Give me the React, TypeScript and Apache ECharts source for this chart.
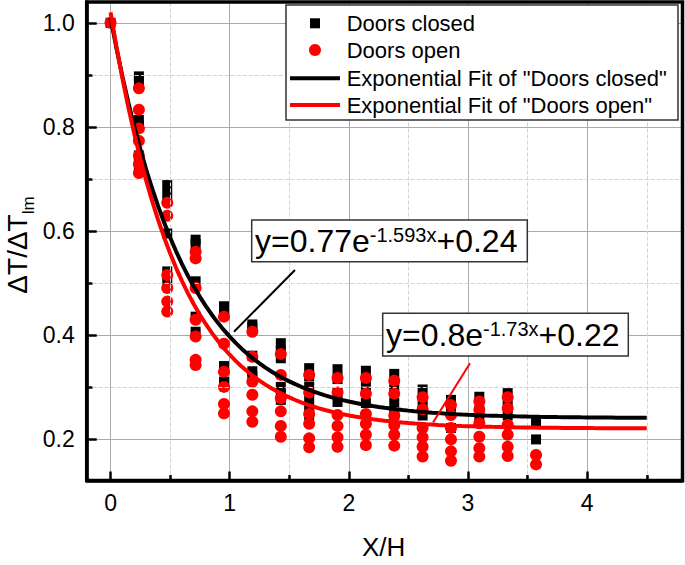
import React, { useEffect, useRef } from "react";
import * as echarts from "echarts";

// ---- data ----
const X_POS = [0, 0.238, 0.476, 0.714, 0.952, 1.19, 1.429, 1.667, 1.905, 2.143, 2.381, 2.619, 2.857, 3.095, 3.333, 3.571];

const CLOSED_COLS: number[][] = [
  [1.0],
  [0.897, 0.887, 0.813, 0.803, 0.745, 0.733, 0.725],
  [0.688, 0.669, 0.595, 0.522, 0.503],
  [0.583, 0.575, 0.503, 0.435, 0.406],
  [0.455, 0.445, 0.34, 0.31],
  [0.42, 0.415, 0.36, 0.33, 0.32],
  [0.384, 0.37, 0.355, 0.3, 0.285, 0.275],
  [0.336, 0.32, 0.3, 0.28, 0.262, 0.246],
  [0.334, 0.315, 0.29, 0.271],
  [0.331, 0.31, 0.29, 0.269],
  [0.325, 0.3, 0.27, 0.246],
  [0.295, 0.27, 0.245],
  [0.275, 0.25, 0.221],
  [0.281, 0.255, 0.233],
  [0.288, 0.265, 0.245],
  [0.233, 0.199],
];

const OPEN_COLS: number[][] = [
  [1.0],
  [0.874, 0.833, 0.797, 0.773, 0.745, 0.728, 0.711],
  [0.654, 0.629, 0.515, 0.49, 0.464, 0.445],
  [0.56, 0.547, 0.49, 0.429, 0.397, 0.352, 0.342],
  [0.435, 0.383, 0.329, 0.3, 0.267, 0.249],
  [0.406, 0.358, 0.31, 0.285, 0.253, 0.233],
  [0.363, 0.323, 0.278, 0.253, 0.225, 0.204],
  [0.323, 0.289, 0.248, 0.229, 0.201, 0.184],
  [0.317, 0.289, 0.246, 0.225, 0.203, 0.185],
  [0.317, 0.287, 0.248, 0.229, 0.208, 0.188],
  [0.312, 0.287, 0.245, 0.226, 0.208, 0.187],
  [0.28, 0.257, 0.221, 0.203, 0.185, 0.166],
  [0.265, 0.246, 0.221, 0.199, 0.176, 0.158],
  [0.272, 0.256, 0.23, 0.204, 0.182, 0.166],
  [0.28, 0.259, 0.227, 0.208, 0.185, 0.167],
  [0.169, 0.151],
];

// fitted equations printed on the chart
const FIT_CLOSED = { a: 0.77, k: 1.593, c: 0.24 };
const FIT_OPEN = { a: 0.8, k: 1.73, c: 0.22 };
const FIT_X_END = 4.5;
const FIT_STEP = 0.05;

const X_MIN = -0.2;
const X_MAX = 4.8;
const Y_MIN = 0.12;
const Y_MAX = 1.04;
const X_MINOR = [0.5, 1.5, 2.5, 3.5, 4.5];
const Y_MINOR = [0.3, 0.5, 0.7, 0.9];

const SERIES_NAMES = [
  "Doors closed",
  "Doors open",
  'Exponential Fit of "Doors closed"',
  'Exponential Fit of "Doors open"',
];
const X_NAME = "X/H";
const Y_NAME_MAIN = "ΔT/ΔT";
const Y_NAME_SUB = "lm";

const FONT = "'Liberation Sans', Arial, Helvetica, sans-serif";

function toPoints(cols: number[][]) {
  const pts: number[][] = [];
  cols.forEach((col, i) => col.forEach((v) => pts.push([X_POS[i], v])));
  return pts;
}

function fitCurve(p: { a: number; k: number; c: number }) {
  const pts: number[][] = [];
  const n = Math.round(FIT_X_END / FIT_STEP);
  for (let i = 0; i <= n; i++) {
    const x = i * FIT_STEP;
    pts.push([x, p.a * Math.exp(-p.k * x) + p.c]);
  }
  return pts;
}

export default function App() {
  const ref = useRef<HTMLDivElement>(null);
  useEffect(() => {
    if (!ref.current) return;
    const chart = echarts.init(ref.current, undefined, { renderer: "svg" });
    const minorTickLen = 0.0105;
    const minorTickLenX = 0.048;
    const GL = 86.7, GT = 2, GW = 595.8, GH = 478.5;
    const eqRich = {
      m: { fontSize: 32, fontFamily: FONT, fill: "#000" },
      s: { fontSize: 20, fontFamily: FONT, fill: "#000", verticalAlign: "top" },
    };
    const option: any = {
      animation: false,
      backgroundColor: "#fff",
      textStyle: { fontFamily: FONT },
      grid: { left: GL, top: GT, width: GW, height: GH, show: false },
      xAxis: {
        type: "value",
        min: X_MIN,
        max: X_MAX,
        splitNumber: 5,
        axisLine: { show: true, onZero: false, lineStyle: { color: "#000", width: 3.5 } },
        axisTick: { show: true, inside: true, length: 9, lineStyle: { color: "#000", width: 2.5 } },
        axisLabel: {
          show: true,
          showMinLabel: false,
          showMaxLabel: false,
          margin: 11,
          color: "#000",
          fontSize: 23,
          fontFamily: FONT,
        },
        splitLine: { show: true, lineStyle: { color: "#a9a9a9", width: 1 } },
      },
      yAxis: {
        type: "value",
        min: Y_MIN,
        max: Y_MAX,
        splitNumber: 5,
        axisLine: { show: true, onZero: false, lineStyle: { color: "#000", width: 3.5 } },
        axisTick: { show: true, inside: true, length: 10, lineStyle: { color: "#000", width: 2.5 } },
        axisLabel: {
          show: true,
          showMinLabel: false,
          showMaxLabel: false,
          margin: 12,
          color: "#000",
          fontSize: 23,
          fontFamily: FONT,
          formatter: (v: number) => v.toFixed(1),
        },
        splitLine: { show: true, lineStyle: { color: "#a9a9a9", width: 1 } },
      },
      series: [
        {
          type: "scatter",
          name: "minor",
          data: [],
          z: 1,
          silent: true,
          markLine: {
            silent: true,
            symbol: ["none", "none"],
            label: { show: false },
            animation: false,
            lineStyle: { color: "#d2d2d2", type: "dashed", width: 1 },
            data: [
              ...X_MINOR.map((x) => ({ xAxis: x })),
              ...Y_MINOR.map((y) => ({ yAxis: y })),
              ...X_MINOR.map((x) => [
                { coord: [x, Y_MIN], lineStyle: { color: "#000", type: "solid", width: 2.5 } },
                { coord: [x, Y_MIN + minorTickLen] },
              ]),
              ...Y_MINOR.map((y) => [
                { coord: [X_MIN, y], lineStyle: { color: "#000", type: "solid", width: 2.5 } },
                { coord: [X_MIN + minorTickLenX, y] },
              ]),
            ],
          },
        },
        {
          type: "scatter",
          name: SERIES_NAMES[0],
          data: toPoints(CLOSED_COLS),
          symbol: "rect",
          symbolSize: 10,
          itemStyle: { color: "#000", opacity: 1 },
          z: 3,
        },
        {
          type: "scatter",
          name: SERIES_NAMES[1],
          data: toPoints(OPEN_COLS),
          symbol: "circle",
          symbolSize: 12,
          itemStyle: { color: "#ff0000", opacity: 1 },
          z: 4,
        },
        {
          type: "line",
          name: SERIES_NAMES[2],
          data: fitCurve(FIT_CLOSED),
          showSymbol: false,
          symbol: "none",
          lineStyle: { color: "#000", width: 4 },
          z: 5,
        },
        {
          type: "line",
          name: SERIES_NAMES[3],
          data: fitCurve(FIT_OPEN),
          showSymbol: false,
          symbol: "none",
          lineStyle: { color: "#ff0000", width: 4 },
          z: 6,
        },
      ],
      graphic: [
        // plot frame
        {
          type: "rect",
          z: 99,
          silent: true,
          shape: { x: GL, y: GT, width: GW, height: GH },
          style: { fill: "none", stroke: "#000", lineWidth: 3.5 },
        },
        // legend
        {
          type: "rect",
          z: 100,
          shape: { x: 286, y: 5, width: 392, height: 115 },
          style: { fill: "#fff", stroke: "#333", lineWidth: 1.5 },
        },
        {
          type: "rect",
          z: 101,
          shape: { x: 310, y: 18.3, width: 10, height: 10 },
          style: { fill: "#000" },
        },
        {
          type: "circle",
          z: 101,
          shape: { cx: 315, cy: 50, r: 6 },
          style: { fill: "#ff0000" },
        },
        {
          type: "line",
          z: 101,
          shape: { x1: 290, y1: 78.3, x2: 340, y2: 78.3 },
          style: { stroke: "#000", lineWidth: 4 },
        },
        {
          type: "line",
          z: 101,
          shape: { x1: 290, y1: 105, x2: 340, y2: 105 },
          style: { stroke: "#ff0000", lineWidth: 4 },
        },
        ...SERIES_NAMES.map((t, i) => ({
          type: "text",
          z: 101,
          x: 346.7,
          y: [23.3, 50, 78.3, 105][i],
          style: {
            text: t,
            fill: "#000",
            fontSize: 22,
            fontFamily: FONT,
            align: "left",
            verticalAlign: "middle",
          },
        })),
        // annotation 1
        {
          type: "rect",
          z: 100,
          shape: { x: 251.7, y: 220, width: 275.6, height: 41.7 },
          style: { fill: "#fff", stroke: "#333", lineWidth: 1.5 },
        },
        {
          type: "text",
          z: 101,
          x: 255,
          y: 241,
          style: {
            text: "{m|y=0.77e}{s|-1.593x}{m|+0.24}",
            fill: "#000",
            fontFamily: FONT,
            align: "left",
            verticalAlign: "middle",
            rich: eqRich,
          },
        },
        {
          type: "line",
          z: 101,
          shape: { x1: 295, y1: 270, x2: 234, y2: 331.7 },
          style: { stroke: "#000", lineWidth: 2 },
        },
        // annotation 2
        {
          type: "rect",
          z: 100,
          shape: { x: 382.7, y: 313.3, width: 245.6, height: 42.7 },
          style: { fill: "#fff", stroke: "#333", lineWidth: 1.5 },
        },
        {
          type: "text",
          z: 101,
          x: 386,
          y: 335,
          style: {
            text: "{m|y=0.8e}{s|-1.73x}{m|+0.22}",
            fill: "#000",
            fontFamily: FONT,
            align: "left",
            verticalAlign: "middle",
            rich: eqRich,
          },
        },
        {
          type: "line",
          z: 101,
          shape: { x1: 470, y1: 363.3, x2: 433, y2: 422.5 },
          style: { stroke: "#ff0000", lineWidth: 2 },
        },
        // axis names
        {
          type: "text",
          z: 101,
          x: 383.6,
          y: 546.7,
          style: {
            text: X_NAME,
            fill: "#000",
            fontSize: 26,
            fontFamily: FONT,
            align: "center",
            verticalAlign: "middle",
          },
        },
        {
          type: "text",
          z: 101,
          x: 17,
          y: 245,
          rotation: Math.PI / 2,
          style: {
            text: "{m|" + Y_NAME_MAIN + "}{s|" + Y_NAME_SUB + "}",
            fill: "#000",
            fontFamily: FONT,
            align: "center",
            verticalAlign: "middle",
            rich: {
              m: { fontSize: 28, fontFamily: FONT, fill: "#000" },
              s: { fontSize: 17, fontFamily: FONT, fill: "#000", verticalAlign: "bottom", padding: [0, 0, -6, 0] },
            },
          },
        },
      ],
    };
    chart.setOption(option);
    return () => chart.dispose();
  }, []);
  return (
    <div
      ref={ref}
      style={{ position: "fixed", left: 0, top: 0, width: 685, height: 565, background: "#fff" }}
    />
  );
}
